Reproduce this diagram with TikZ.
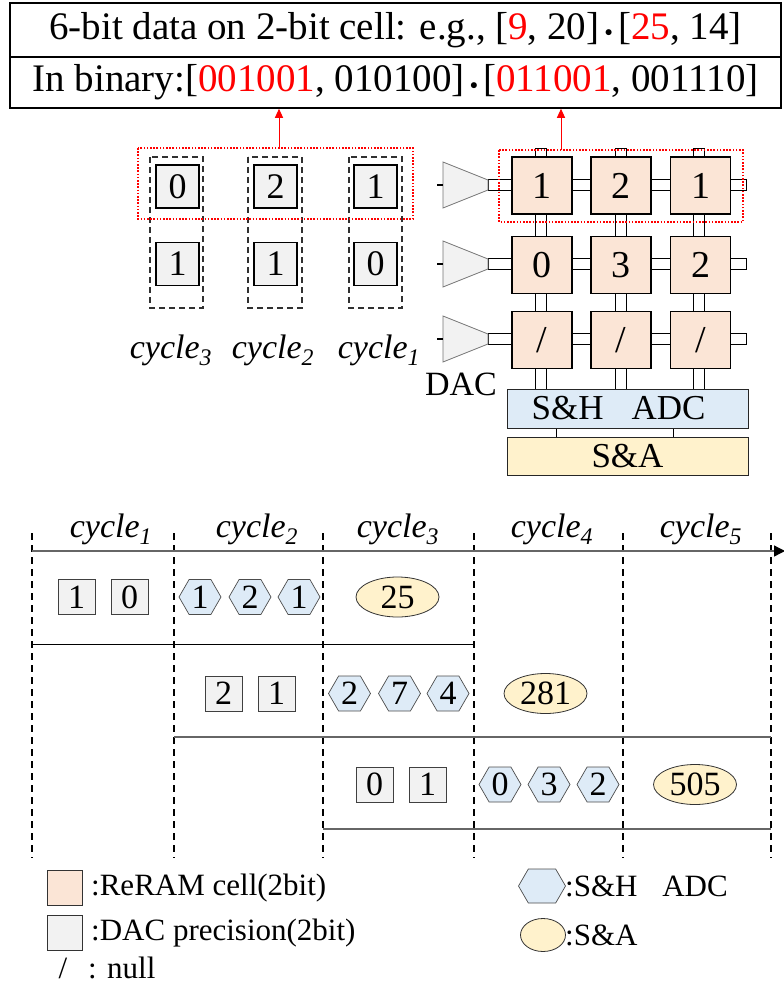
\documentclass[tikz,border=0pt]{standalone}
\usepackage{fontspec}
\setmainfont{Liberation Serif}
\usetikzlibrary{shapes.geometric,shapes.symbols,arrows.meta,calc}

\definecolor{cellfill}{HTML}{FBE5D6}
\definecolor{dacfill}{HTML}{F2F2F2}
\definecolor{adcfill}{HTML}{DEEBF7}
\definecolor{safill}{HTML}{FFF2CC}
\definecolor{dashgray}{HTML}{303030}
\definecolor{axisgray}{HTML}{666666}

\newcommand\fsz[1]{\fontsize{#1}{#1}\selectfont}
\newcommand\dotop{${}\mathbin{\vcenter{\hbox{\scalebox{0.62}{$\bullet$}}}}{}$}

\tikzset{
  hdrbox/.style={draw=black, line width=1.5pt, minimum width=771, inner sep=0, font=\fsz{39}},
  cellbox/.style={draw=black, line width=1.3pt, fill=cellfill, minimum width=60, minimum height=57, inner sep=0, font=\fsz{38}},
  wire/.style={draw=black, line width=0.8pt, fill=white},
  dactri/.style={draw=black!55, line width=0.8pt, fill=dacfill},
  dacbig/.style={draw=black, line width=1.3pt, fill=dacfill, minimum width=43, minimum height=43, inner sep=0, font=\fsz{36}},
  dacsmall/.style={draw=black!75, line width=0.8pt, fill=dacfill, minimum width=37, minimum height=35, inner sep=0, font=\fsz{34}},
  hexa/.style={signal, signal to=west and east, signal pointer angle=120, draw=black!70, line width=0.7pt, fill=adcfill, minimum width=42, minimum height=35, inner sep=0, font=\fsz{34}},
  sael/.style={ellipse, draw=black!80, line width=0.8pt, fill=safill, minimum width=83, minimum height=40, inner sep=0, font=\fsz{34}},
  unitbox/.style={draw=black!85, line width=1pt, minimum width=241, inner sep=0, font=\fsz{35}},
  colbox/.style={draw=dashgray, line width=1.3pt, dash pattern=on 6pt off 4pt},
  tline/.style={draw=black, line width=1.2pt, dash pattern=on 7pt off 5pt},
  selbox/.style={draw=red, line width=1.1pt, dash pattern=on 1.6pt off 1.6pt},
  redarrow/.style={draw=red, line width=1pt, -{Triangle[length=9pt,width=8pt]}},
  cyc/.style={font=\fsz{34}\itshape, inner sep=0},
  legtext/.style={anchor=west, inner sep=0, font=\fsz{31}},
}

\begin{document}
\begin{tikzpicture}[x=1pt,y=-1pt]
\useasboundingbox (0,0) rectangle (784,985);

% header: the example vectors
\node[hdrbox, minimum height=54] (title) at (395.5,30)
  {6-bit data on 2-bit cell: e.g., [\textcolor{red}{9}, 20]\dotop[\textcolor{red}{25}, 14]};
\node[hdrbox, minimum height=51] (bin) at (395.5,82.5)
  {In binary:[\textcolor{red}{001001}, 010100]\dotop[\textcolor{red}{011001}, 001110]};

% input slices fed through the DAC, one column per cycle
\draw[colbox] (150,157) rectangle (203,308);
\draw[colbox] (248,157) rectangle (302,308);
\draw[colbox] (349,157) rectangle (402,308);
\node[dacbig] (d31) at (177.5,186.5) {0};
\node[dacbig] (d32) at (177.5,264) {1};
\node[dacbig] (d21) at (275.5,186.5) {2};
\node[dacbig] (d22) at (275.5,264) {1};
\node[dacbig] (d11) at (375.5,186.5) {1};
\node[dacbig] (d12) at (375.5,264) {0};
\node[cyc] (lc3) at (171,350) {cycle\textsubscript{3}};
\node[cyc] (lc2) at (273,350) {cycle\textsubscript{2}};
\node[cyc] (lc1) at (379,350) {cycle\textsubscript{1}};

% crossbar: bit lines, word lines, DAC drivers
\foreach \cx in {541,621,699}
  \draw[wire] (\cx-5.5,148) rectangle (\cx+5.5,389);
\foreach \ry in {185,264,339}{
  \draw[wire] (488,\ry-5.5) rectangle (746,\ry+5.5);
  \draw[dactri] (443,\ry-23) -- (488,\ry-5) -- (488,\ry+5) -- (443,\ry+23) -- cycle;
  \draw[line width=1.3pt] (437,\ry) -- (443,\ry);
}
\node[cellbox] (c11) at (542,185.5) {1};
\node[cellbox] (c12) at (621,185.5) {2};
\node[cellbox] (c13) at (700.5,185.5) {1};
\node[cellbox] (c21) at (542,265) {0};
\node[cellbox] (c22) at (621,265) {3};
\node[cellbox] (c23) at (700.5,265) {2};
\node[cellbox] (c31) at (542,340) {/};
\node[cellbox] (c32) at (621,340) {/};
\node[cellbox] (c33) at (700.5,340) {/};
\node[font=\fsz{34}, inner sep=0] (daclbl) at (461,384) {DAC};

% periphery
\node[unitbox, fill=adcfill, minimum height=39,
      label={[font=\fsz{35}, inner sep=0, xshift=-9pt]center:S\&H\hspace{0.8em}ADC}] (adc) at (627.5,408.5) {};
\node[unitbox, fill=safill, minimum height=38] (sa) at (627.5,456) {S\&A};
\draw[line width=1pt] ($(adc.south west)!0.207!(adc.south east)$) -- ($(sa.north west)!0.207!(sa.north east)$);
\draw[line width=1pt] ($(adc.south west)!0.689!(adc.south east)$) -- ($(sa.north west)!0.689!(sa.north east)$);

% first slice highlighted and traced back to its bits
\draw[selbox] (138,148) rectangle (413,219);
\draw[selbox] (499,150) rectangle (743,222);
\coordinate (aL) at (279,148);
\coordinate (aR) at (561,150);
\draw[redarrow] (aL) -- (aL |- bin.south);
\draw[redarrow] (aR) -- (aR |- bin.south);

% pipeline timeline
\foreach \x in {32,174,323,474,623,771}
  \draw[tline] (\x,533) -- (\x,858);
\coordinate (ax0) at (32,551);
\coordinate (ax1) at (785,551);
\draw[axisgray, line width=1.3pt, -{Triangle[length=11pt,width=11pt,black]}] (ax0) -- (ax1);
\node[cyc] (t1) at (111,529) {cycle\textsubscript{1}};
\node[cyc] (t2) at (257,529) {cycle\textsubscript{2}};
\node[cyc] (t3) at (398,529) {cycle\textsubscript{3}};
\node[cyc] (t4) at (552,529) {cycle\textsubscript{4}};
\node[cyc] (t5) at (701,529) {cycle\textsubscript{5}};

\draw[black, line width=1pt] (32,644) -- (474,644);
\draw[axisgray, line width=1.3pt] (174,737) -- (771,737);
\draw[axisgray, line width=1.3pt] (323,829) -- (771,829);

% slice 1
\node[dacsmall] (s11) at (76.5,597) {1};
\node[dacsmall] (s12) at (129.5,597) {0};
\node[hexa] (h11) at (200,597) {1};
\node[hexa] (h12) at (250,597) {2};
\node[hexa] (h13) at (299,597) {1};
\node[sael] (e1) at (397.5,597) {25};
% slice 2
\node[dacsmall] (s21) at (223.5,693.5) {2};
\node[dacsmall] (s22) at (276.5,693.5) {1};
\node[hexa] (h21) at (349.5,693.5) {2};
\node[hexa] (h22) at (399.5,693.5) {7};
\node[hexa] (h23) at (448,693.5) {4};
\node[sael] (e2) at (545.5,693.5) {281};
% slice 3
\node[dacsmall] (s31) at (374.5,784.5) {0};
\node[dacsmall] (s32) at (427.5,784.5) {1};
\node[hexa] (h31) at (500,784.5) {0};
\node[hexa] (h32) at (549,784.5) {3};
\node[hexa] (h33) at (598,784.5) {2};
\node[sael] (e3) at (695,784.5) {505};

% legend
\node[draw=black!80, line width=1pt, fill=cellfill, minimum width=35, minimum height=35, inner sep=0] (k1) at (64.5,888) {};
\node[legtext] (k1t) at (91,888) {:ReRAM cell(2bit)};
\node[draw=black!80, line width=1pt, fill=dacfill, minimum width=35, minimum height=35, inner sep=0] (k2) at (64.5,933) {};
\node[legtext] (k2t) at (91,933) {:DAC precision(2bit)};
\node[font=\fsz{31}, inner sep=0] (k3) at (63,968) {/};
\node[legtext] (k3t) at (88,968) {: null};
\node[hexa, minimum width=47, minimum height=34] (k4) at (542,886) {};
\node[legtext] (k4t) at (565,886) {:S\&H\hspace{0.8em}ADC};
\node[sael, minimum width=45, minimum height=33] (k5) at (543,935) {};
\node[legtext] (k5t) at (565,935) {:S\&A};
\end{tikzpicture}
\end{document}
